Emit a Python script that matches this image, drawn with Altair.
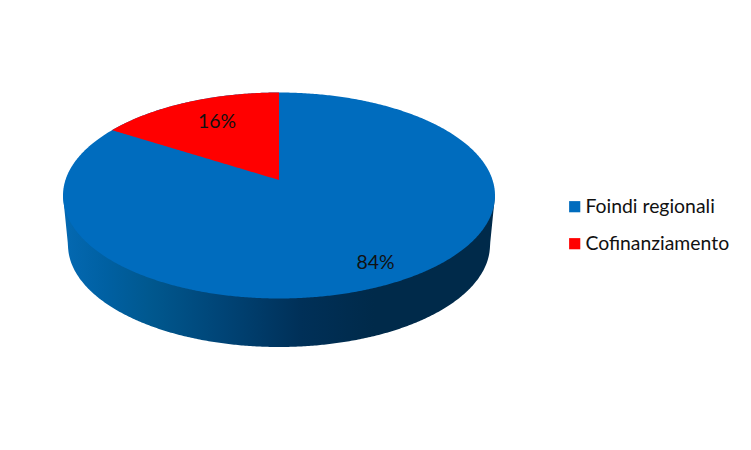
import numpy as np
import pandas as pd
import altair as alt

categories = ["Foindi regionali", "Cofinanziamento"]
shares = [84, 16]
labels = ["84%", "16%"]
colors = ["#006CBE", "#FF0000"]

# picture frame (image pixels) and pie layout
W, H = 730, 425
M = 8
CX, CY, RX, RY = 279.0, 195.5, 216.0, 103.0
APEX_Y = 180.0          # apex of the slices sits above the ellipse centre (perspective)
WALL = 49.5             # depth of the side wall
SHRINK = 5.0            # lower rim is slightly narrower (perspective)
VIEW = 0.879            # foreshortening of the slice angle in the tilted view

def rim(x, rx=RX, cy=CY, ry=RY):
    return ry * np.sqrt(np.clip(1 - ((x - CX) / rx) ** 2, 0, 1))

t = np.linspace(0, np.pi, 361)
xs = CX - RX * np.cos(t)

# top face
top_df = pd.DataFrame({"x": xs, "y": CY - rim(xs), "y2": CY + rim(xs), "name": categories[0]})

# highlighted slice, derived from its share
theta = 2 * np.pi * shares[1] / 100 * VIEW
edge_x = CX - RX * np.sin(theta)
edge_y = CY - RY * np.cos(theta)
tw = np.linspace(np.arcsin((edge_x - CX) / RX), 0, 120)
wx = CX + RX * np.sin(tw)
slice_df = pd.DataFrame({
    "x": wx,
    "y": CY - rim(wx),
    "y2": edge_y + (wx - edge_x) / (CX - edge_x) * (APEX_Y - edge_y),
    "name": categories[1],
})

# side wall
rx2 = RX - SHRINK
cy2 = CY + WALL
lower = np.where(np.abs(xs - CX) <= rx2, cy2 + rim(xs, rx2, cy2, RY - 1),
                 CY + (np.abs(xs - CX) - RX) / (rx2 - RX) * WALL)
wall_df = pd.DataFrame({"x": xs, "y": np.full_like(xs, CY), "y2": lower})

label_df = pd.DataFrame({"x": [375.5, 217.0], "y": [263.0, 122.0], "t": labels})

sx = alt.Scale(domain=[M, M + W], range=[0, W], nice=False, zero=False)
sy = alt.Scale(domain=[M, M + H], range=[0, H], nice=False, zero=False)
X = alt.X("x:Q", scale=sx, axis=None)
Y = alt.Y("y:Q", scale=sy, axis=None, stack=None)
Y2 = alt.Y2("y2:Q")

grad = alt.Gradient(
    gradient="linear", x1=0, x2=1, y1=0, y2=0,
    stops=[
        alt.GradientStop(offset=0.0, color="#0469B2"),
        alt.GradientStop(offset=0.1, color="#0060A2"),
        alt.GradientStop(offset=0.2, color="#00588F"),
        alt.GradientStop(offset=0.37, color="#004476"),
        alt.GradientStop(offset=0.55, color="#003058"),
        alt.GradientStop(offset=0.72, color="#002A4A"),
        alt.GradientStop(offset=1.0, color="#002A4A"),
    ],
)
wall = alt.Chart(wall_df).mark_area(color=grad).encode(x=X, y=Y, y2=Y2)

color = alt.Color(
    "name:N",
    scale=alt.Scale(domain=categories, range=colors),
    legend=alt.Legend(
        title=None, orient="none", legendX=557, legendY=189,
        symbolType="square", symbolSize=125, symbolStrokeWidth=0, symbolOpacity=1,
        labelFont="Lato", labelFontSize=19.4, labelColor="#111111",
        labelOffset=1, rowPadding=16, padding=0,
    ),
)
top = alt.Chart(top_df).mark_area().encode(x=X, y=Y, y2=Y2, color=color)
slc = alt.Chart(slice_df).mark_area().encode(x=X, y=Y, y2=Y2, color=color)
txt = alt.Chart(label_df).mark_text(font="Lato", fontSize=19.4, color="#111111").encode(
    x=X, y=alt.Y("y:Q", scale=sy, axis=None), text="t:N"
)

chart = (
    alt.layer(wall, top, slc, txt)
    .properties(width=W, height=H, padding=0, background="white")
    .configure_view(stroke=None)
)
chart.save("out.html", embed_options={"renderer": "svg", "actions": False})
